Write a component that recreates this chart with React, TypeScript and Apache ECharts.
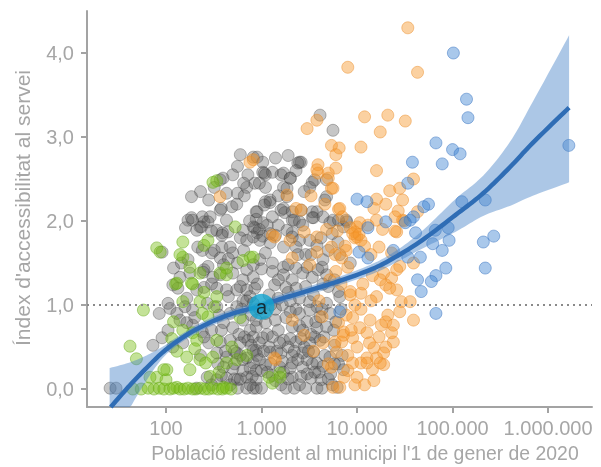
import React, { useEffect, useRef } from 'react';
import * as echarts from 'echarts';

// [population, index]
const grayPoints: [number, number][] = [
  [4100,3.26],[5600,3.08],[2600,2.70],[3400,2.46],[3200,2.40],[3600,2.49],[4600,2.25],[4800,2.49],[2600,2.13],[3800,2.11],[5600,2.01],[7800,1.99],[7200,1.93],[3400,2.04],
  [185,2.29],[600,2.79],[820,2.76],[900,2.76],[1030,2.70],[1400,2.75],[2400,2.69],[500,2.55],[720,2.55],[1030,2.58],[1100,2.55],[1300,2.58],[1600,2.55],[2000,2.51],[370,2.49],[700,2.40],[1100,2.40],[430,2.33],[560,2.33],[1700,2.40],[1850,2.29],[370,2.13],[490,2.17],[900,2.11],[1100,2.23],[1230,2.22],[1600,2.13],[1750,2.10],[2100,2.01],[170,2.01],[185,2.04],[250,1.99],[227,1.93],[290,2.05],[160,1.92],[340,1.89],[390,1.86],[820,1.93],[1030,1.98],[1150,1.95],[640,1.89],[900,1.86],[2100,1.86],
  [395,2.51],[660,2.30],[380,2.15],[880,2.11],[190,2.01],[240,2.05],[275,1.99],[210,1.89],[235,1.93],[430,2.01],[445,1.87],[385,1.83],[300,1.88],[850,1.92],[950,1.90],[600,1.80],[700,1.77],[820,1.81],[215,1.69],[240,1.65],[300,1.62],[320,1.65],[385,1.69],[470,1.69],[500,1.62],[120,1.44],[145,1.50],[170,1.54],[275,1.46],[250,1.42],[370,1.56],[400,1.48],[560,1.50],[700,1.42],[820,1.48],
  [2500,2.70],[1070,2.57],[1700,2.57],[2000,2.51],[850,2.45],[1850,2.39],[1230,2.25],[1070,2.19],[1700,2.15],[2100,2.11],[3400,2.11],[3500,2.04],[4800,2.29],[880,2.02],[1030,1.82],[1230,1.85],[2200,2.01],[2500,1.99],[4400,2.05],[5200,1.98],[6400,2.01],[7700,2.01],[1850,1.89],[2100,1.81],[2500,1.77],[1700,1.69],[2300,1.69],[3200,1.77],[3800,1.71],[1230,1.74],[960,1.77],[1400,1.83],[960,1.54],[1300,1.50],[1700,1.45],[2300,1.44],[3000,1.45],[4400,1.54],[6600,1.60],[8500,1.50],[5000,1.65],[91,1.63],
  [140,1.33],[178,1.38],[245,1.39],[310,1.33],[370,1.36],[500,1.38],[640,1.30],[820,1.33],[118,1.24],[133,1.20],[210,1.18],[250,1.21],[340,1.20],[430,1.18],[550,1.18],[700,1.18],[850,1.20],[165,1.08],[158,0.98],[110,0.96],[105,1.02],[190,0.94],[270,1.02],[340,0.98],[130,0.90],[140,0.82],[165,0.79],[190,0.76],[470,0.90],[550,0.98],[640,0.82],[400,0.79],[500,0.73],[760,0.70],[880,0.74],[73,0.52],[91,0.61],[118,0.50],[370,0.56],[470,0.58],[600,0.55],[720,0.58],[340,0.43],[430,0.38],[550,0.43],[700,0.37],[820,0.46],[400,0.26],[500,0.24],[640,0.22],[760,0.25],[880,0.22],[270,0.14],[340,0.11],[430,0.13],[560,0.11],[700,0.14],[880,0.11],[26,0.01],[30,0.01],[210,0.01],[560,0.01],[700,0.01],[880,0.01],
  [1700,1.36],[2100,1.30],[2700,1.38],[3400,1.33],[4800,1.36],[1370,1.24],[1800,1.21],[6400,1.16],[6600,1.10],[4800,1.02],[3800,0.98],[2500,1.08],[3200,1.04],[2000,0.92],[2500,0.90],[3200,0.94],[4100,0.86],[5200,0.90],[880,0.82],[1100,0.79],[1400,0.82],[2100,0.74],[2700,0.70],[3800,0.73],[4800,0.74],[820,0.62],[1030,0.61],[1300,0.62],[1700,0.58],[2300,0.56],[3200,0.55],[4100,0.58],[880,0.46],[1230,0.44],[1600,0.43],[2100,0.40],[2700,0.43],[3500,0.44],[5200,0.38],[820,0.31],[1100,0.29],[1560,0.26],[2100,0.31],[2700,0.26],[3800,0.31],[7200,0.23],[2100,0.14],[3300,0.13],[4200,0.11],[820,0.01],[1000,0.01],[1800,0.01],[2200,0.01],[2900,0.01],[3800,0.01],[4300,0.01],
  [1200,1.12],[1500,1.08],[1900,1.15],[1100,0.90],[1250,1.00],[640,1.05],[760,1.10],[580,0.65],[950,0.55],[1500,0.70],[1900,0.50],[2600,0.60],[3000,0.18],[1300,0.16],[1600,0.05],[2500,0.05],[5500,0.05],[6200,0.02],[3600,0.62],[5800,0.52],[6000,0.80],[5000,1.22],[3900,1.42],[2900,1.60],[1100,1.62],[650,1.65],[450,1.55],
  [470,0.05],[520,0.30],[600,0.40],[660,0.62],[780,0.52],[950,0.35],[1150,0.20],[1400,0.10],[1700,0.20],[2000,0.25],[2400,0.35],[2800,0.50],[3400,0.30],[4000,0.20],[4600,0.40],[5300,0.18],[4500,0.62],[3000,0.80],[3500,1.12],[4400,1.25],[2300,1.20],[1500,1.30],[900,1.25],[700,1.05],[450,1.10],[300,1.25],[360,0.88],[280,0.55],[230,0.40],[240,0.68],[300,0.70],[600,1.22],[1000,1.43],[1300,1.40],[1900,1.48],[2400,1.60],[3300,1.60],[4200,1.80],[5500,1.85],[6300,1.75],[2700,1.95],[1500,1.95],[1300,2.05],[750,2.00],[550,2.20],[650,2.45],[280,2.25],[230,2.35],[320,2.40],[1500,2.30],[2800,2.35],[2300,2.60],[1900,2.78],[560,2.65],[950,2.45],[4300,1.45],[5800,1.30],[6800,0.95],[5700,0.70],[7000,0.40],[6400,0.30],[150,0.55],[105,0.70],[85,0.90],[200,0.85],[250,0.62],[380,0.70],[520,0.45],[620,0.95],[820,1.02],[1400,0.95],[1800,0.85],[2300,0.95],[2900,1.22],[3700,0.80],[3000,0.35],[2000,0.60],[1200,0.50],[800,0.15],[1000,0.22],
  [520,0.12],[640,0.35],[760,0.05],[900,0.40],[1050,0.45],[1250,0.30],[1450,0.45],[1650,0.33],[1900,0.12],[2200,0.45],[2600,0.15],[3100,0.45],[3600,0.20],[4400,0.27],[5000,0.12],[5800,0.30],[1150,0.65],[1550,0.55],[2500,0.75],[3300,0.65],[4300,0.95],[2000,1.05],[1650,1.00],[950,0.95],[780,0.88],[420,0.45],[350,0.30],[300,0.05],[380,0.16],[600,0.12]
];

const greenPoints: [number, number][] = [
  [58,0.94],[42,0.51],[49,0.36],[126,1.25],[190,1.25],[430,1.36],[150,1.04],[227,1.04],[190,0.67],[275,0.86],[310,0.38],[178,0.23],[227,0.35],[102,0.23],[80,0.14],[100,0.11],[130,0.02],[400,0.02],[550,0.35],
  [310,2.46],[340,2.48],[530,1.93],[80,1.68],[87,1.63],[150,1.75],[150,1.57],[275,1.77],[250,1.71],[640,1.53],[760,1.57],[430,1.44],[178,1.45],[140,1.60],[185,1.26],[130,1.26],[227,1.38],[368,1.38],[340,1.10],[240,0.90],[150,0.70],[210,0.58],[165,0.38],[260,0.31],[430,0.31],[490,0.50],[340,0.58],[95,0.23],[68,0.14],[1560,0.19],[1300,0.07],[1200,0.14],[1560,0.14],[820,1.57],
  [45,0.0],[55,0.0],[65,0.01],[75,0.0],[85,0.01],[95,0.0],[110,0.0],[120,0.01],[140,0.0],[155,0.0],[170,0.01],[190,0.0],[205,0.0],[230,0.01],[255,0.0],[280,0.0],[310,0.01],[350,0.0],[390,0.0],[430,0.01],[480,0.0],
  [120,0.80],[115,0.60],[200,0.48],[290,0.15],[360,0.20],[250,1.15],[320,0.98],[600,0.85],[700,0.40],[130,0.45]
];

const orangePoints: [number, number][] = [
  [34000,4.30],[8000,3.83],[43000,3.77],[3800,3.20],[3000,3.10],[12000,3.24],[21000,3.26],[32000,3.19],[17500,3.06],[5400,2.90],[6500,2.87],[11000,2.88],[6000,2.79],[3900,2.67],[6000,2.63],[16000,2.60],[3800,2.61],[5000,2.57],[5600,2.39],[39000,2.50],[22000,2.36],[28000,2.39],[16000,2.26],[6400,2.14],[27000,2.12],[16000,2.01],[26000,1.87],[31000,2.00],[10000,1.93],[10000,1.81],
  [3900,2.57],[5000,2.51],[5400,2.39],[6600,2.15],[4600,2.20],[1850,2.31],[2300,2.15],[2600,2.13],[43000,2.11],[30000,2.01],[25000,1.88],[10700,1.98],[8500,1.92],[9500,1.87],[11000,1.77],[2800,1.87],[3800,1.81],[5400,1.69],[5900,1.60],[6900,1.56],[7700,1.65],[17000,1.69],[23000,1.62],[28000,1.46],[39000,1.50],[2100,1.56],[3200,1.48],[3800,1.63],
  [19000,1.38],[23000,1.32],[8500,1.16],[11000,1.14],[16000,1.10],[20000,1.24],[26000,1.18],[29000,1.04],[39000,0.82],[28000,0.92],[7700,0.88],[9000,0.85],[6400,0.79],[13700,0.82],[18000,0.76],[20000,0.80],[7200,0.68],[10700,0.73],[12700,0.67],[9000,0.61],[5900,0.56],[24000,0.56],[20000,0.50],[15000,0.49],[6100,0.44],[12700,0.37],[16000,0.37],[19000,0.29],[9000,0.31],[11000,0.31],[14500,0.23],[5400,0.26],[7300,0.14],[10000,0.14],[5600,0.02],[6600,0.02],[9500,0.05],
  [12700,0.31],[17500,0.31],[19000,0.43],[23000,0.67],[24000,0.76],[36000,1.04],[17500,1.30],[26000,1.42],[22000,1.20],[8500,1.12],[6900,0.56],[7200,0.64],
  [757,2.70],[368,2.29],[1400,0.35],[2100,0.82],[1990,1.77],[1300,1.83],[1370,1.81],[820,2.73],[4300,0.86],[4400,0.55],[1370,0.37],[2800,0.64],
  [9500,1.80],[9000,1.85],[10500,1.84],[12000,1.70],[14000,1.60],[7000,2.05],[4800,1.90],[3300,2.30],[6000,1.40],[5200,1.30],[8000,1.45],[13000,1.95],[15000,2.15],[20000,2.20],[30000,2.25],[4000,1.05],[3500,0.45],[12000,0.05],[15000,0.10],[8000,0.40],[11000,0.95],[14000,1.05],
  [8700,0.70],[10000,0.50],[13500,0.55],[17000,0.62],[21000,0.88],[9500,1.00],[6800,1.25],[11500,1.25],[14500,1.35],[7500,1.70],[6200,1.88],[18500,1.90],[25000,2.05],[5000,0.30],[8000,0.22]
];

const bluePoints: [number, number][] = [
  [102000,4.0],[140000,3.45],[145000,3.23],[67000,2.93],[100000,2.85],[120000,2.80],[38000,2.70],[78000,2.68],[1650000,2.90],[34000,2.45],[220000,2.25],[125000,2.23],[56000,2.20],[50000,2.17],[39000,2.05],[36000,2.01],[90000,1.92],[66000,1.89],[41000,1.86],[92000,1.77],[270000,1.82],[210000,1.75],[62000,1.73],[78000,1.65],[34000,1.57],[46000,1.57],[85000,1.44],[220000,1.44],[67000,1.35],[47000,1.16],[67000,0.90],[10000,2.26],[12700,2.23],[20000,1.99],[13000,1.92],[13000,1.56],[6600,0.92],[24000,1.65],[60000,1.28],[43000,1.30],[10500,1.63],[32000,1.98]
];

// fitted trend and confidence band
const trendPop = [25.7, 40, 60, 91, 135, 200, 300, 447, 676, 1000, 1380, 2880, 6300, 14500, 25100, 47900, 107000, 209000, 398000, 692000, 1660000];
const trendVal = [-0.23, 0.02, 0.23, 0.43, 0.58, 0.70, 0.80, 0.88, 0.94, 0.99, 1.05, 1.16, 1.28, 1.43, 1.57, 1.77, 2.07, 2.33, 2.64, 2.93, 3.35];
const bandLow = [-0.70, -0.27, 0.07, 0.36, 0.53, 0.65, 0.75, 0.83, 0.89, 0.94, 1.00, 1.11, 1.23, 1.37, 1.50, 1.67, 1.87, 2.06, 2.18, 2.30, 2.46];
const bandHigh = [0.25, 0.31, 0.39, 0.50, 0.63, 0.75, 0.85, 0.93, 0.99, 1.04, 1.10, 1.21, 1.33, 1.49, 1.64, 1.88, 2.26, 2.54, 2.94, 3.42, 4.21];

const xTickPops = [100, 1000, 10000, 100000, 1000000];
const yTicks = [0, 1, 2, 3, 4];
const refLineValue = 1;
const annotationPop = 1000;
const annotationVal = 0.98;
const annotationLabel = 'a';
const xTitle = "Població resident al municipi l'1 de gener de 2020";
const yTitle = "Índex d'accessibilitat al servei";

const lg = (v: number) => Math.log10(v);
const thousands = (n: number) => String(n).replace(/\B(?=(\d{3})+(?!\d))/g, '.');

// Catmull-Rom smoothing of pixel points (drawing only)
function catmull(pts: number[][], seg = 10): number[][] {
  const out: number[][] = [];
  for (let i = 0; i < pts.length - 1; i++) {
    const p0 = pts[i - 1] || pts[i];
    const p1 = pts[i];
    const p2 = pts[i + 1];
    const p3 = pts[i + 2] || pts[i + 1];
    for (let s = 0; s < seg; s++) {
      const t = s / seg, t2 = t * t, t3 = t2 * t;
      out.push([0, 1].map((k) => 0.5 * (2 * p1[k] + (-p0[k] + p2[k]) * t + (2 * p0[k] - 5 * p1[k] + 4 * p2[k] - p3[k]) * t2 + (-p0[k] + 3 * p1[k] - 3 * p2[k] + p3[k]) * t3)));
    }
  }
  out.push(pts[pts.length - 1]);
  return out;
}

export default function App() {
  const ref = useRef<HTMLDivElement>(null);
  useEffect(() => {
    const chart = echarts.init(ref.current!, null, { renderer: 'svg' });
    const font = "'Liberation Sans', Arial, sans-serif";
    const axisColor = '#a3a3a3';
    const labelColor = '#a6a6a6';
    const scatter = (pts: [number, number][], color: string, border: string) => ({
      type: 'scatter',
      data: pts.map(([p, v]) => [lg(p), v]),
      symbolSize: 12,
      itemStyle: { color, borderColor: border, borderWidth: 1 },
      z: 2,
    });
    const xTickVals = xTickPops.map(lg);
    const bandData = trendPop.map((p, i) => [lg(p), bandLow[i], bandHigh[i], trendVal[i]]);
    chart.setOption({
      animation: false,
      grid: { left: 87, right: 9, top: 11, bottom: 60 },
      xAxis: {
        type: 'value',
        min: 1.173,
        max: 6.46,
        axisLine: { show: true, onZero: false, lineStyle: { color: axisColor, width: 2 } },
        axisTick: { show: true, length: 6, lineStyle: { color: axisColor, width: 2 }, customValues: xTickVals },
        axisLabel: {
          customValues: xTickVals,
          formatter: (v: number) => thousands(Math.round(Math.pow(10, v))),
          color: labelColor, fontSize: 20, fontFamily: font, margin: 11,
        },
        splitLine: { show: false },
      },
      yAxis: {
        type: 'value',
        min: -0.214,
        max: 4.5,
        axisLine: { show: true, onZero: false, lineStyle: { color: axisColor, width: 2 } },
        axisTick: { show: true, length: 6, lineStyle: { color: axisColor, width: 2 }, customValues: yTicks },
        axisLabel: {
          customValues: yTicks,
          formatter: (v: number) => v.toFixed(1).replace('.', ','),
          color: labelColor, fontSize: 20, fontFamily: font, margin: 13,
        },
        splitLine: { show: false },
      },
      graphic: [
        { type: 'text', x: 365, y: 453, style: { text: xTitle, fill: labelColor, font: `19.4px ${font}`, textAlign: 'center', textVerticalAlign: 'middle' } },
        { type: 'text', x: 22, y: 208, rotation: Math.PI / 2, style: { text: yTitle, fill: labelColor, font: `21px ${font}`, textAlign: 'center', textVerticalAlign: 'middle' } },
      ],
      series: [
        {
          ...scatter(grayPoints, 'rgba(85,85,85,0.42)', 'rgba(60,60,60,0.45)'),
          markLine: {
            silent: true, symbol: 'none', label: { show: false },
            lineStyle: { type: [2, 4], color: '#8a8a8a', width: 2 },
            data: [{ yAxis: refLineValue }],
          },
        },
        scatter(greenPoints, 'rgba(120,190,20,0.55)', 'rgba(100,170,20,0.6)'),
        scatter(orangePoints, 'rgba(245,150,40,0.55)', 'rgba(235,140,40,0.6)'),
        scatter(bluePoints, 'rgba(60,130,210,0.55)', 'rgba(50,110,190,0.6)'),
        {
          type: 'custom',
          z: 3,
          silent: true,
          data: bandData,
          encode: { x: 0, y: [1, 2] },
          renderItem: (params: any, api: any) => {
            if (params.dataIndex !== 0) return null;
            const cs = params.coordSys;
            const bottom = cs.y + cs.height;
            const top = cs.y;
            const clampY = (pt: number[]) => [pt[0], Math.max(top, Math.min(bottom, pt[1]))];
            const upper = catmull(bandData.map((d) => api.coord([d[0], d[2]]))).map(clampY);
            const lower = catmull(bandData.map((d) => api.coord([d[0], d[1]]))).map(clampY);
            const trendRaw = catmull(bandData.map((d) => api.coord([d[0], d[3]])));
            const trend = trendRaw.filter((pt) => pt[1] <= bottom + 0.5);
            const firstIn = trendRaw.findIndex((pt) => pt[1] <= bottom);
            if (firstIn > 0) {
              const a = trendRaw[firstIn - 1], b = trendRaw[firstIn];
              const t = (bottom - a[1]) / (b[1] - a[1]);
              trend.unshift([a[0] + (b[0] - a[0]) * t, bottom]);
            }
            return {
              type: 'group',
              children: [
                { type: 'polygon', shape: { points: [...upper, ...lower.reverse()] }, style: { fill: 'rgba(70,130,200,0.45)' } },
                { type: 'polyline', shape: { points: trend }, style: { stroke: '#2f6db5', lineWidth: 4.5, fill: null, lineCap: 'butt' } },
              ],
            };
          },
        },
        {
          type: 'scatter', z: 5,
          data: [[lg(annotationPop), annotationVal]],
          symbolSize: 26,
          itemStyle: { color: '#12a4cf' },
          label: { show: true, position: 'inside', formatter: annotationLabel, color: '#111', fontSize: 20, fontFamily: font },
        },
      ],
    });
    return () => chart.dispose();
  }, []);
  return <div ref={ref} style={{ position: 'fixed', left: 0, top: 0, width: 601, height: 467 }} />;
}
